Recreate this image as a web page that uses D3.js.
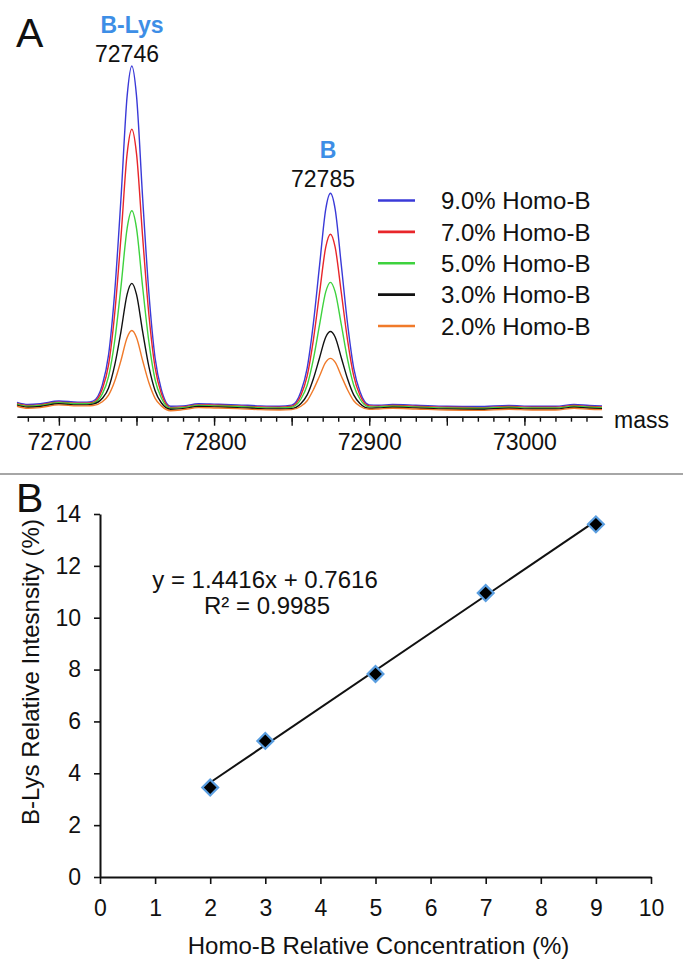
<!DOCTYPE html>
<html><head><meta charset="utf-8">
<script src="https://cdn.jsdelivr.net/npm/d3@7/dist/d3.min.js"></script>
<style>
body{margin:0;background:#fff}
text{font-family:"Liberation Sans",Arial,Helvetica,sans-serif;fill:#111}
</style>
</head><body>
<svg id="chart" width="683" height="980"></svg>
<script>
// ---------- Panel A data (deconvoluted mass spectra) ----------
const masses = [72673,72680,72688,72700,72712,72718,72722,72728,72732,72736,72740,72744,72747,72750,72754,72758,72762,72766,72772,72780,72790,72800,72815,72830,72842,72850,72856,72860,72864,72868,72872,72875,72878,72882,72886,72890,72894,72900,72906,72915,72930,72950,72970,72990,73005,73020,73032,73042,73050];
const int9 = [2.2,1.6,1.8,2.6,2.3,2.3,2.6,7.3,16.0,34.5,61.5,91.4,100,91.4,61.4,34.0,15.1,6.0,1.1,1.2,1.8,1.7,1.5,1.2,1.1,1.4,5.4,12.2,25.2,42.1,58.5,63.0,58.5,42.1,25.2,12.2,5.4,1.5,1.4,1.6,1.4,1.1,1.0,1.3,1.1,1.1,1.6,1.3,1.2];
const int7 = [1.9,1.3,1.5,2.3,2.0,2.0,2.2,6.1,13.1,28.2,50.2,74.6,81.6,74.6,50.1,27.7,12.3,4.8,0.7,0.9,1.5,1.4,1.2,0.9,0.8,1.1,4.3,9.9,20.4,34.1,47.4,51.1,47.4,34.1,20.4,9.9,4.3,1.2,1.1,1.3,1.1,0.8,0.7,1.0,0.8,0.8,1.3,1.0,0.9];
const int5 = [1.7,1.1,1.3,2.1,1.8,1.8,2.0,4.7,9.7,20.2,35.8,52.9,57.9,52.9,35.6,19.8,8.8,3.5,0.5,0.7,1.3,1.2,1.0,0.7,0.6,0.8,3.2,7.2,14.8,24.8,34.4,37.1,34.4,24.8,14.8,7.2,3.2,0.9,0.9,1.1,0.9,0.6,0.5,0.8,0.6,0.6,1.1,0.8,0.7];
const int3 = [1.4,0.8,1.0,1.8,1.5,1.5,1.7,3.4,6.4,13.1,22.8,33.7,36.8,33.6,22.7,12.6,5.6,2.1,0.2,0.4,1.0,0.9,0.7,0.4,0.3,0.4,1.9,4.4,9.1,15.2,21.2,22.8,21.2,15.2,9.1,4.4,1.9,0.5,0.6,0.8,0.6,0.3,0.2,0.5,0.3,0.3,0.8,0.5,0.4];
const int2 = [1.1,0.5,0.7,1.5,1.2,1.2,1.3,2.4,4.3,8.4,14.4,21.1,23.1,21.1,14.3,7.9,3.4,1.2,-0.2,0.1,0.7,0.6,0.4,0.1,0.0,0.1,1.1,2.7,5.9,9.9,13.9,15.0,13.9,9.9,5.9,2.7,1.1,0.2,0.3,0.5,0.3,0.0,-0.1,0.2,0.0,0.0,0.5,0.2,0.1];
const seriesNames = ["9.0% Homo-B","7.0% Homo-B","5.0% Homo-B","3.0% Homo-B","2.0% Homo-B"];
const massTickLabels = [72700,72800,72900,73000];
const peakLabels = ["B-Lys","B"];
const peakMassLabels = ["72746","72785"];

// ---------- Panel B data (calibration) ----------
const concentration = [2,3,5,7,9];
const relIntensity = [3.45,5.25,7.83,10.95,13.6];
const xTicksB = [0,1,2,3,4,5,6,7,8,9,10];
const yTicksB = [0,2,4,6,8,10,12,14];
const fitSlope = 1.4416, fitIntercept = 0.7616, fitR2 = 0.9985;

// ---------- styles ----------
const colors = ["#3a3ad8","#e8262a","#3ed23e","#111111","#f07a2a"];
const seriesData = [int9,int7,int5,int3,int2];

const svg = d3.select("#chart");
svg.append("rect").attr("width",683).attr("height",980).attr("fill","#fff");

// ================= Panel A =================
const xA = d3.scaleLinear().domain([72673,73050]).range([17,602]);
const yA = d3.scaleLinear().domain([0,100]).range([410,66]);
const gA = svg.append("g");

const line = d3.line().x((d,i)=>xA(masses[i])).y(d=>yA(d)).curve(d3.curveMonotoneX);
seriesData.forEach((s,i)=>{
  gA.append("path").attr("d",line(s)).attr("fill","none")
    .attr("stroke",colors[i]).attr("stroke-width",1.4).attr("stroke-linejoin","round");
});

// axis A: minor + major ticks
const axisY = 416.7;
const minorTicks = d3.range(72680,73041,10);
const majorTicks = d3.range(72700,73001,50);
const axMinor = d3.axisBottom(xA).tickValues(minorTicks).tickSize(5).tickSizeOuter(0).tickFormat("");
const axMajor = d3.axisBottom(xA).tickValues(majorTicks).tickSize(9).tickSizeOuter(0)
  .tickFormat(d=> massTickLabels.includes(d) ? d3.format("d")(d) : "");
const gm = gA.append("g").attr("transform",`translate(0,${axisY})`).call(axMinor);
const gM = gA.append("g").attr("transform",`translate(0,${axisY})`).call(axMajor);
[gm,gM].forEach(g=>{
  g.select(".domain").attr("stroke","#111").attr("stroke-width",1.6);
  g.selectAll(".tick line").attr("stroke","#111").attr("stroke-width",1.4);
});
gM.selectAll(".tick text").attr("font-size",23).attr("fill","#111").attr("dy",0).attr("y",33)
  .style("font-family","'Liberation Sans',Arial,sans-serif");
gA.append("text").attr("x",xA(73050)+12).attr("y",axisY+11).attr("font-size",23).text("mass");

// peak labels
const peakX = [132,328];
const peakYs = [33,158];
peakLabels.forEach((t,i)=>{
  gA.append("text").attr("x",peakX[i]).attr("y",peakYs[i]).attr("text-anchor","middle")
    .attr("font-size",23).attr("font-weight","bold").style("fill","#3d8ee6").text(t);
  gA.append("text").attr("x",peakX[i]-5).attr("y",peakYs[i]+29).attr("text-anchor","middle")
    .attr("font-size",23).text(peakMassLabels[i]);
});

// legend
const legY = d3.scalePoint().domain(seriesNames).range([200.5,326]);
seriesNames.forEach((n,i)=>{
  gA.append("line").attr("x1",378).attr("x2",415).attr("y1",legY(n)).attr("y2",legY(n))
    .attr("stroke",colors[i]).attr("stroke-width",2.6);
  gA.append("text").attr("x",441).attr("y",legY(n)).attr("dy","0.36em").attr("font-size",24).text(n);
});

// panel letter A
svg.append("text").attr("x",16).attr("y",47).attr("font-size",41).text("A");

// divider
svg.append("line").attr("x1",0).attr("x2",683).attr("y1",474).attr("y2",474)
  .attr("stroke","#888").attr("stroke-width",1.5);

// ================= Panel B =================
const xB = d3.scaleLinear().domain([0,10]).range([100,651]);
const yB = d3.scaleLinear().domain([0,14]).range([877,514]);
const gB = svg.append("g");

const axX = d3.axisBottom(xB).tickValues(xTicksB).tickSize(7).tickSizeOuter(0).tickPadding(10);
const axYB = d3.axisLeft(yB).tickValues(yTicksB).tickSize(6).tickSizeOuter(0).tickPadding(13);
const gx = gB.append("g").attr("transform",`translate(0,${yB(0)})`).call(axX);
const gy = gB.append("g").attr("transform",`translate(${xB(0)},0)`).call(axYB);
[gx,gy].forEach(g=>{
  g.select(".domain").attr("stroke","#111").attr("stroke-width",2);
  g.selectAll(".tick line").attr("stroke","#111").attr("stroke-width",1.6);
  g.selectAll(".tick text").attr("font-size",23).attr("fill","#111")
    .style("font-family","'Liberation Sans',Arial,sans-serif");
});
gx.selectAll(".tick text").attr("dy",0).attr("y",39);

// fit line
gB.append("line")
  .attr("x1",xB(concentration[0])).attr("y1",yB(fitSlope*concentration[0]+fitIntercept))
  .attr("x2",xB(concentration[concentration.length-1])).attr("y2",yB(fitSlope*concentration[concentration.length-1]+fitIntercept))
  .attr("stroke","#111").attr("stroke-width",2);

// points (diamonds)
const sym = d3.symbol().type(d3.symbolSquare).size(125);
gB.selectAll("path.pt").data(concentration).join("path").attr("class","pt")
  .attr("d",sym)
  .attr("transform",(d,i)=>`translate(${xB(d)},${yB(relIntensity[i])}) rotate(45)`)
  .attr("fill","#000").attr("stroke","#5a9ee0").attr("stroke-width",2.2);

// equation
gB.append("text").attr("x",265).attr("y",588).attr("text-anchor","middle").attr("font-size",24)
  .text(`y = ${fitSlope}x + ${fitIntercept}`);
gB.append("text").attr("x",267).attr("y",614).attr("text-anchor","middle").attr("font-size",24)
  .text(`R² = ${fitR2}`);

// axis titles
gB.append("text").attr("x",xB(5)+3).attr("y",954).attr("text-anchor","middle").attr("font-size",24)
  .text("Homo-B Relative Concentration (%)");
gB.append("text").attr("transform",`translate(39,${672}) rotate(-90)`).attr("text-anchor","middle")
  .attr("font-size",24).text("B-Lys Relative Intesnsity (%)");

// panel letter B
svg.append("text").attr("x",16).attr("y",512).attr("font-size",41).text("B");
</script>
</body></html>
